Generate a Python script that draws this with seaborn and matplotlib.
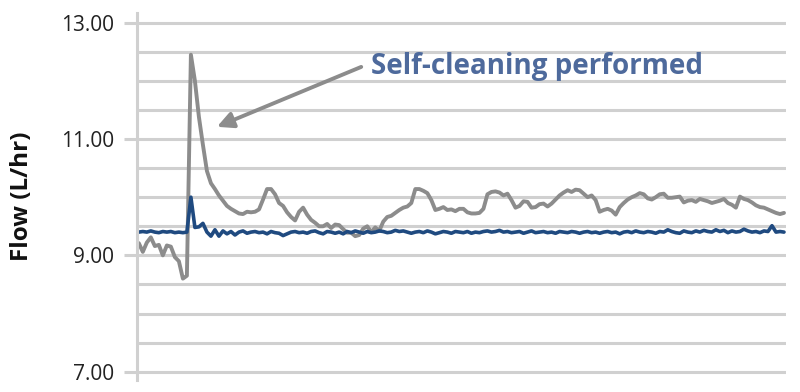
import numpy as np
import pandas as pd
import matplotlib
matplotlib.use("Agg")
import matplotlib.pyplot as plt
import seaborn as sns

# ---- data ----
sample = list(range(162))

gray_flow = [
    9.21, 9.06, 9.22, 9.31, 9.16, 9.18, 9.00, 9.17, 9.15, 8.97,
    8.90, 8.60, 8.65, 12.45, 12.00, 11.38, 10.90, 10.45, 10.24, 10.14,
    10.03, 9.94, 9.85, 9.80, 9.76, 9.72, 9.71, 9.75, 9.74, 9.75,
    9.79, 9.96, 10.14, 10.14, 10.05, 9.90, 9.85, 9.74, 9.66, 9.60,
    9.75, 9.82, 9.70, 9.61, 9.56, 9.50, 9.50, 9.54, 9.47, 9.53,
    9.52, 9.45, 9.39, 9.39, 9.33, 9.35, 9.46, 9.50, 9.40, 9.48,
    9.42, 9.58, 9.66, 9.68, 9.73, 9.78, 9.82, 9.84, 9.90, 10.14,
    10.14, 10.11, 10.07, 9.95, 9.78, 9.80, 9.83, 9.78, 9.79, 9.76,
    9.80, 9.80, 9.74, 9.72, 9.72, 9.73, 9.80, 10.05, 10.09, 10.10,
    10.08, 10.03, 10.06, 9.95, 9.82, 9.85, 9.93, 9.92, 9.82, 9.83,
    9.88, 9.89, 9.84, 9.89, 9.96, 10.03, 10.08, 10.12, 10.09, 10.13,
    10.12, 10.06, 10.00, 10.03, 9.95, 9.75, 9.78, 9.80, 9.77, 9.70,
    9.83, 9.90, 9.96, 10.00, 10.03, 10.07, 10.05, 9.98, 9.96, 10.00,
    10.05, 10.06, 9.99, 9.99, 10.00, 10.01, 9.91, 9.94, 9.95, 9.92,
    9.97, 9.95, 9.93, 9.90, 9.92, 9.94, 9.97, 9.90, 9.87, 9.82,
    10.01, 9.97, 9.95, 9.91, 9.86, 9.83, 9.82, 9.79, 9.76, 9.73,
    9.71, 9.73,
]

blue_flow = [
    9.40, 9.41, 9.40, 9.42, 9.40, 9.39, 9.41, 9.40, 9.41, 9.39,
    9.40, 9.39, 9.40, 10.00, 9.48, 9.49, 9.55, 9.40, 9.33, 9.44,
    9.33, 9.42, 9.37, 9.41, 9.35, 9.40, 9.42, 9.38, 9.40, 9.41,
    9.39, 9.40, 9.37, 9.41, 9.39, 9.38, 9.34, 9.37, 9.40, 9.41,
    9.39, 9.40, 9.38, 9.41, 9.42, 9.39, 9.37, 9.41, 9.40, 9.38,
    9.40, 9.37, 9.41, 9.39, 9.42, 9.40, 9.38, 9.41, 9.39, 9.40,
    9.42, 9.41, 9.39, 9.40, 9.43, 9.41, 9.42, 9.40, 9.38, 9.40,
    9.41, 9.39, 9.42, 9.40, 9.37, 9.39, 9.41, 9.40, 9.38, 9.41,
    9.40, 9.39, 9.41, 9.38, 9.40, 9.39, 9.41, 9.42, 9.40, 9.41,
    9.43, 9.40, 9.41, 9.39, 9.40, 9.41, 9.38, 9.40, 9.42, 9.39,
    9.40, 9.41, 9.39, 9.40, 9.38, 9.41, 9.40, 9.39, 9.41, 9.40,
    9.38, 9.40, 9.41, 9.39, 9.40, 9.38, 9.40, 9.41, 9.39, 9.40,
    9.37, 9.40, 9.41, 9.39, 9.42, 9.40, 9.39, 9.41, 9.40, 9.38,
    9.41, 9.40, 9.44, 9.41, 9.39, 9.38, 9.42, 9.40, 9.39, 9.42,
    9.40, 9.43, 9.41, 9.40, 9.44, 9.41, 9.43, 9.39, 9.42, 9.40,
    9.41, 9.45, 9.42, 9.40, 9.41, 9.39, 9.42, 9.41, 9.51, 9.40,
    9.41, 9.40,
]

ytick_vals = [7, 9, 11, 13]
ytick_labels = ["7.00", "9.00", "11.00", "13.00"]
y_label = "Flow (L/hr)"
annotation = "Self-cleaning performed"

# ---- styling ----
sns.set_theme(style="white")
plt.rcParams["font.family"] = ["Open Sans", "DejaVu Sans"]

grid_c = "#d0d0d0"
gray_c = "#8c8c8c"
blue_c = "#1f4a80"
text_c = "#4e6a9c"

df = pd.DataFrame({"sample": sample, "gray": gray_flow, "blue": blue_flow})

fig = plt.figure(figsize=(8.0, 3.92), dpi=100)
ax = fig.add_axes([0.171, 0.0306, 0.8115, 0.937])

ax.set_yticks(np.arange(7, 13.01, 0.5), minor=True)
ax.yaxis.grid(True, which="both", color=grid_c, linewidth=2.2)
ax.xaxis.grid(False)
ax.set_axisbelow(True)

sns.lineplot(data=df, x="sample", y="gray", ax=ax, color=gray_c, linewidth=2.8)
sns.lineplot(data=df, x="sample", y="blue", ax=ax, color=blue_c, linewidth=2.6)

ax.set_xlim(-0.5, 161.5)
ax.set_ylim(6.857, 13.172)
ax.set_xticks([])
ax.set_xlabel("")
ax.set_yticks(ytick_vals)
ax.set_yticklabels(ytick_labels)
ax.tick_params(axis="y", which="major", direction="out", length=9.5, width=2.2,
               color=grid_c, pad=7, labelsize=15, labelcolor="#222222", left=True)
ax.tick_params(axis="y", which="minor", length=0)
ax.set_ylabel(y_label, fontsize=17.5, fontweight="bold", color="#111111", labelpad=19)

for s in ["top", "right", "bottom"]:
    ax.spines[s].set_visible(False)
ax.spines["left"].set_color(grid_c)
ax.spines["left"].set_linewidth(2.2)

ax.annotate("", xy=(19.5, 11.21), xytext=(55.5, 12.24),
            arrowprops=dict(arrowstyle="-|>,head_length=0.8,head_width=0.4",
                            color=gray_c, lw=2.8, shrinkA=0, shrinkB=0))
ax.text(58, 12.25, annotation, fontsize=20, fontweight="bold", color=text_c,
        va="center", ha="left")

fig.savefig("out.png", dpi=100)
